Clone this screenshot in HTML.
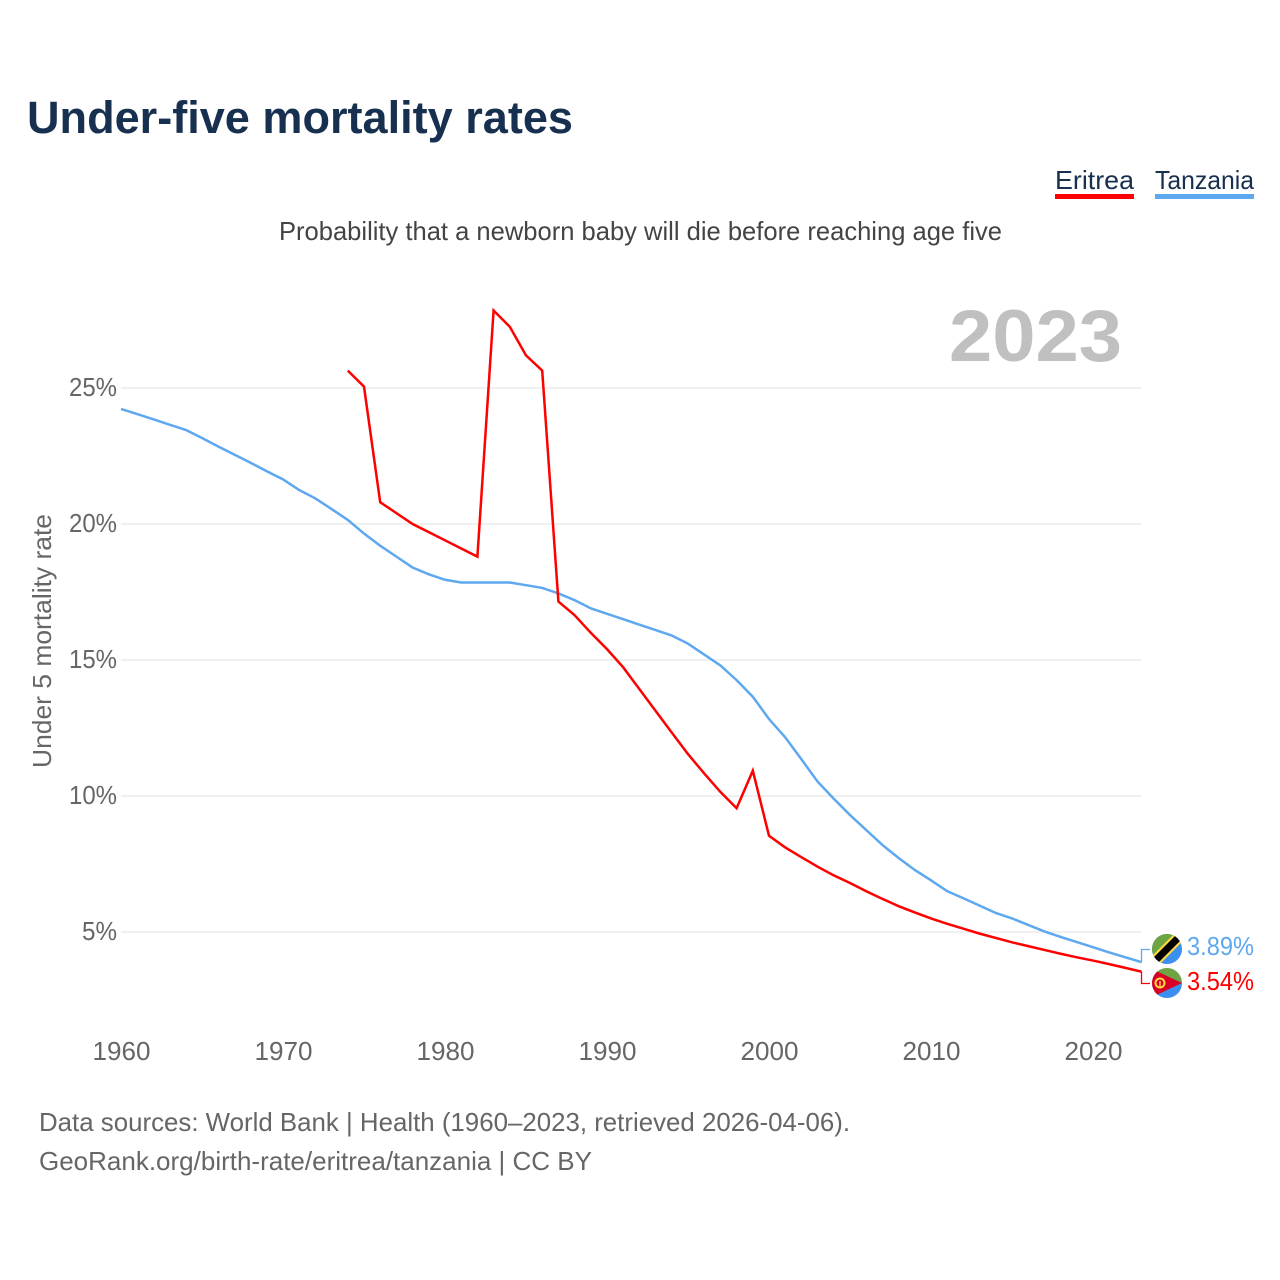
<!DOCTYPE html>
<html lang="en">
<head>
<meta charset="utf-8">
<title>Under-five mortality rates</title>
<style>
html,body{margin:0;padding:0;background:#fff;width:1280px;height:1280px;overflow:hidden}
svg{display:block}
text{font-family:"Liberation Sans",sans-serif}
</style>
</head>
<body>
<svg id="chart" xmlns="http://www.w3.org/2000/svg" width="1280" height="1280" viewBox="0 0 1280 1280">
  <defs>
    <clipPath id="clip-tz"><circle cx="1167" cy="949" r="15"/></clipPath>
    <clipPath id="clip-er"><circle cx="1167" cy="983" r="15"/></clipPath>
  </defs>
  <rect x="0" y="0" width="1280" height="1280" fill="#fff"/>
  <text x="27" y="133" font-size="45" font-weight="700" fill="#18304f" textLength="546" lengthAdjust="spacingAndGlyphs">Under-five mortality rates</text>
  <text x="279" y="240" font-size="26" fill="#444" textLength="723" lengthAdjust="spacingAndGlyphs">Probability that a newborn baby will die before reaching age five</text>

  <g>
    <text x="1055" y="189" font-size="26" fill="#18304f" textLength="79" lengthAdjust="spacingAndGlyphs">Eritrea</text>
    <rect x="1055" y="194" width="79" height="5" fill="#ff0000"/>
  </g>
  <g>
    <text x="1155" y="189" font-size="26" fill="#18304f" textLength="99" lengthAdjust="spacingAndGlyphs">Tanzania</text>
    <rect x="1155" y="194" width="99" height="5" fill="#5ea8ef"/>
  </g>

  <text x="949" y="361" font-size="73" font-weight="700" fill="#c0c0c0" textLength="173" lengthAdjust="spacingAndGlyphs">2023</text>

  <g id="grid"></g>
  <g id="y-ticks"></g>
  <g id="x-ticks"></g>
  <text transform="translate(51,768) rotate(-90)" font-size="26" fill="#666" textLength="254" lengthAdjust="spacingAndGlyphs">Under 5 mortality rate</text>
  <g id="series"></g>

  <g clip-path="url(#clip-tz)">
    <rect x="1150" y="932" width="34" height="34" fill="#3a8ff0"/>
    <polygon points="1150,966 1150,932 1184,932" fill="#6da544"/>
    <polygon points="1148,960 1178,930 1186,938 1156,968" fill="#ffda44"/>
    <polygon points="1150,961 1179,932 1184,937 1155,966" fill="#000"/>
  </g>
  <g clip-path="url(#clip-er)">
    <rect x="1150" y="966" width="34" height="17" fill="#6da544"/>
    <rect x="1150" y="983" width="34" height="17" fill="#3a8ff0"/>
    <polygon points="1150,968 1182,983 1150,998" fill="#d80027"/>
    <circle cx="1160" cy="983" r="4.5" fill="none" stroke="#ffda44" stroke-width="2"/>
    <rect x="1159.3" y="981" width="1.4" height="6" fill="#ffda44"/>
  </g>

  <text x="1187" y="955" font-size="26" fill="#5ea8ef" textLength="67" lengthAdjust="spacingAndGlyphs">3.89%</text>
  <text x="1187" y="990" font-size="26" fill="#ff0000" textLength="67" lengthAdjust="spacingAndGlyphs">3.54%</text>

  <text x="39" y="1131" font-size="26" fill="#666" textLength="811" lengthAdjust="spacingAndGlyphs">Data sources: World Bank | Health (1960–2023, retrieved 2026-04-06).</text>
  <text x="39" y="1170" font-size="26" fill="#666" textLength="553" lengthAdjust="spacingAndGlyphs">GeoRank.org/birth-rate/eritrea/tanzania | CC BY</text>
</svg>
<script>
const yTickValues = [5, 10, 15, 20, 25];
const xTickValues = [1960, 1970, 1980, 1990, 2000, 2010, 2020];
const tanzaniaStartYear = 1960;
const tanzaniaValues = [24.23,24.04,23.85,23.65,23.46,23.16,22.85,22.55,22.25,21.94,21.64,21.25,20.94,20.55,20.15,19.65,19.2,18.8,18.4,18.15,17.95,17.85,17.85,17.85,17.85,17.75,17.65,17.45,17.2,16.9,16.7,16.5,16.3,16.1,15.9,15.6,15.2,14.8,14.26,13.65,12.83,12.16,11.35,10.53,9.9,9.3,8.75,8.2,7.72,7.28,6.9,6.5,6.24,5.97,5.7,5.5,5.26,5.02,4.82,4.63,4.44,4.25,4.07,3.89];
const eritreaStartYear = 1974;
const eritreaValues = [25.64,25.05,20.8,20.4,20.0,19.7,19.4,19.1,18.8,27.85,27.25,26.2,25.64,17.15,16.65,16.0,15.4,14.73,13.93,13.13,12.33,11.54,10.83,10.15,9.55,10.93,8.54,8.11,7.75,7.4,7.08,6.8,6.5,6.22,5.95,5.72,5.5,5.3,5.12,4.94,4.78,4.62,4.48,4.34,4.2,4.07,3.95,3.82,3.68,3.54];

const NS = 'http://www.w3.org/2000/svg';
function xScale(year) { return 121 + (year - 1960) * 16.2; }
function yScale(pct) { return 932 - (pct - 5) * 27.2; }

function make(tag, attrs, parent, content) {
  const el = document.createElementNS(NS, tag);
  Object.keys(attrs).forEach(function (k) { el.setAttribute(k, attrs[k]); });
  if (content !== undefined) el.textContent = content;
  parent.appendChild(el);
  return el;
}

const grid = document.getElementById('grid');
const yTicks = document.getElementById('y-ticks');
const xTicks = document.getElementById('x-ticks');
const series = document.getElementById('series');

yTickValues.forEach(function (v) {
  const line = make('line', { x1: 121, x2: 1141, y1: yScale(v), y2: yScale(v), stroke: '#ebebeb', 'stroke-width': 1.4 }, grid);
  
  
  const label = make('text', { x: 117, y: yScale(v) + 8, 'font-size': 26, fill: '#666', 'text-anchor': 'end', textLength: v < 10 ? 35 : 48, lengthAdjust: 'spacingAndGlyphs' }, yTicks, v + '%');
  
  
});

xTickValues.forEach(function (v) {
  const label = make('text', { x: xScale(v) + 0.5, y: 1060, 'font-size': 26, fill: '#666', 'text-anchor': 'middle', textLength: 58, lengthAdjust: 'spacingAndGlyphs' }, xTicks, String(v));
  
  
});

function pointsFor(values, startYear) {
  return values.map(function (v, i) {
    return xScale(startYear + i).toFixed(2) + ',' + yScale(v).toFixed(2);
  }).join(' ');
}

const tanzaniaLine = make('polyline', { points: pointsFor(tanzaniaValues, tanzaniaStartYear), fill: 'none', stroke: '#5ea8ef', 'stroke-width': 2.5, 'stroke-linejoin': 'miter' }, series);



const eritreaLine = make('polyline', { points: pointsFor(eritreaValues, eritreaStartYear), fill: 'none', stroke: '#ff0000', 'stroke-width': 2.5, 'stroke-linejoin': 'miter' }, series);



const tzLast = tanzaniaValues[tanzaniaValues.length - 1];
const erLast = eritreaValues[eritreaValues.length - 1];
const tzConnector = make('polyline', { points: '1141.5,' + yScale(tzLast).toFixed(2) + ' 1141.5,949.5 1150,949.5', fill: 'none', stroke: '#5ea8ef', 'stroke-width': 1.3 }, series);


const erConnector = make('polyline', { points: '1141.5,' + yScale(erLast).toFixed(2) + ' 1141.5,983.5 1150,983.5', fill: 'none', stroke: '#ff0000', 'stroke-width': 1.3 }, series);


</script>
</body>
</html>
